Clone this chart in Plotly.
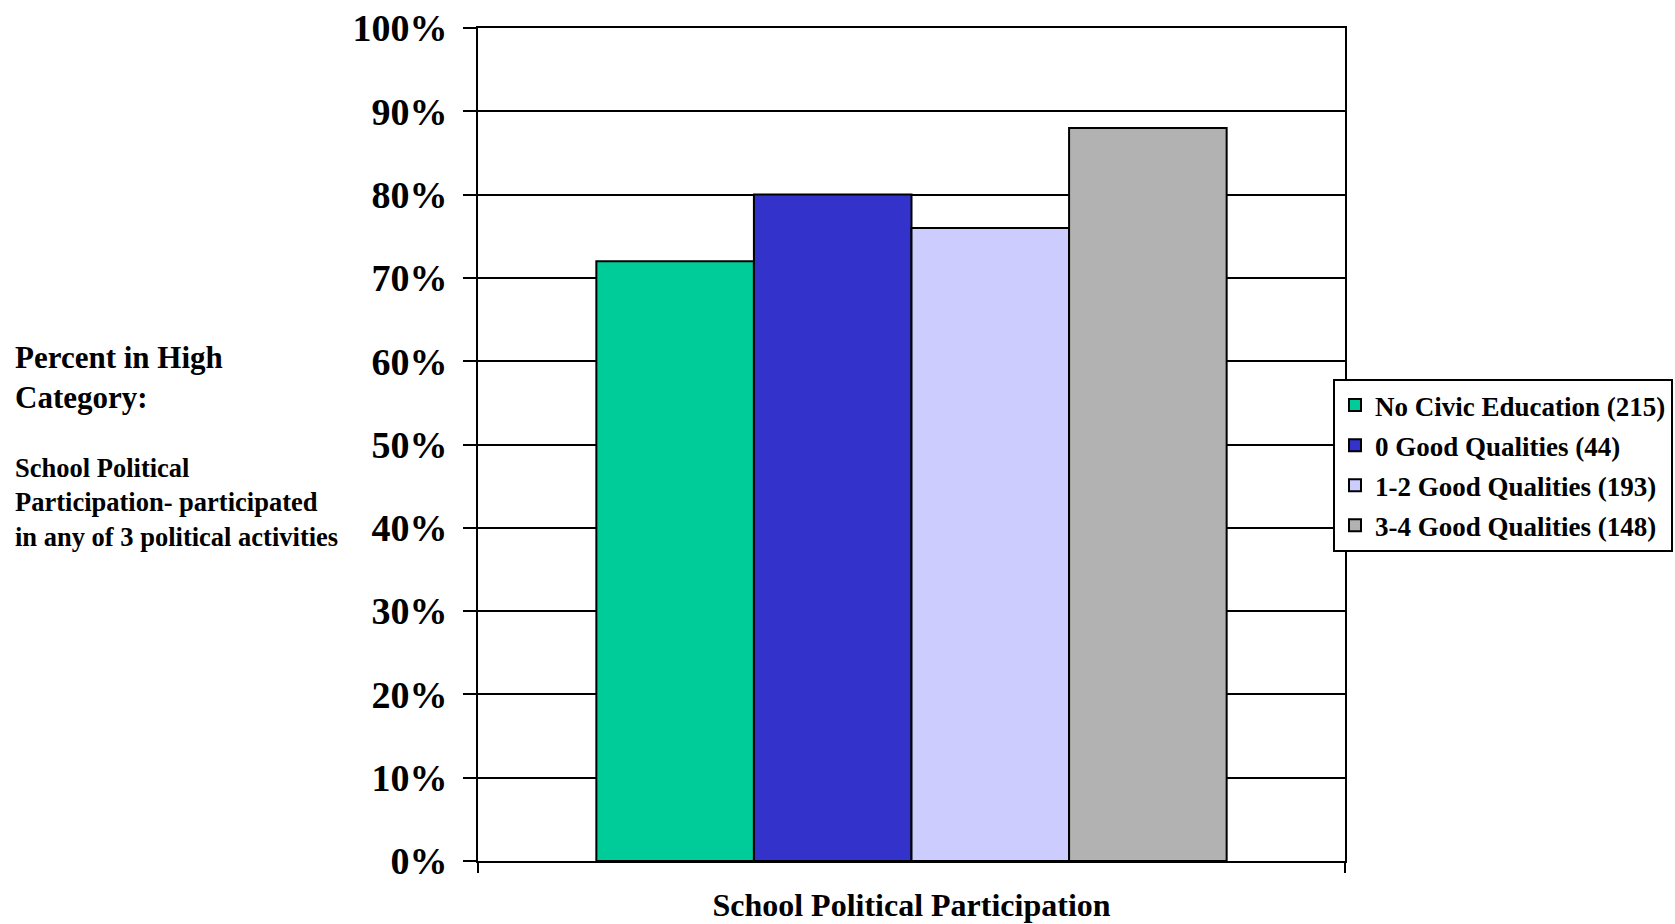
import plotly.graph_objects as go

# Category and series data
category = ["School Political Participation"]
series_names = [
    "No Civic Education (215)",
    "0 Good Qualities (44)",
    "1-2 Good Qualities (193)",
    "3-4 Good Qualities (148)",
]
series_values = [0.72, 0.80, 0.76, 0.88]
series_colors = ["#00CC99", "#3333CC", "#CCCCFF", "#B2B2B2"]

y_tick_vals = [i / 10 for i in range(11)]
y_tick_text = [f"{i * 10}%" for i in range(11)]

FONT = "Liberation Serif"

fig = go.Figure()
for name, val, col in zip(series_names, series_values, series_colors):
    fig.add_trace(go.Bar(
        x=category,
        y=[val],
        name=name,
        legendgroup=name,
        marker=dict(color=col, line=dict(color="black", width=2)),
    ))

fig.update_layout(
    width=1675,
    height=924,
    margin=dict(l=478, r=330, t=28, b=63, autoexpand=False),
    paper_bgcolor="white",
    plot_bgcolor="white",
    barmode="group",
    bargap=0.273,
    bargroupgap=0,
    font=dict(family=FONT, color="black"),
    showlegend=True,
    legend=dict(
        xref="container",
        x=1673 / 1675,
        xanchor="right",
        yref="paper",
        y=(861 - 379) / 833,
        yanchor="top",
        bordercolor="black",
        borderwidth=2,
        bgcolor="white",
        font=dict(family=FONT, size=27, color="black", weight="bold"),
        tracegroupgap=2,
    ),
    xaxis=dict(
        type="category",
        automargin=False,
        showline=True,
        linecolor="black",
        linewidth=2,
        mirror=True,
        ticks="outside",
        tickson="boundaries",
        ticklen=10,
        tickwidth=2,
        tickcolor="black",
        showgrid=False,
        tickfont=dict(family=FONT, size=32, color="black", weight="bold"),
        ticklabelstandoff=15,
    ),
    yaxis=dict(
        automargin=False,
        range=[0, 1],
        tickvals=y_tick_vals,
        ticktext=y_tick_text,
        showline=True,
        linecolor="black",
        linewidth=2,
        mirror=True,
        ticks="outside",
        ticklen=13,
        tickwidth=2,
        tickcolor="black",
        showgrid=True,
        gridcolor="black",
        gridwidth=2,
        zeroline=False,
        tickfont=dict(family=FONT, size=38, color="black", weight="bold"),
        ticklabelstandoff=8,
    ),
)

# Axis description block on the left
fig.add_annotation(
    xref="paper", yref="paper",
    x=(13 - 478) / 867, y=(861 - 338) / 833,
    xanchor="left", yanchor="top",
    text="Percent in High<br>Category:",
    showarrow=False, align="left",
    font=dict(family=FONT, size=31, color="black", weight="bold"),
)
fig.add_annotation(
    xref="paper", yref="paper",
    x=(13 - 478) / 867, y=(861 - 451) / 833,
    xanchor="left", yanchor="top",
    text="School Political<br>Participation- participated<br>in any of 3 political activities",
    showarrow=False, align="left",
    font=dict(family=FONT, size=26.5, color="black", weight="bold"),
)

fig.write_html("out.html")
